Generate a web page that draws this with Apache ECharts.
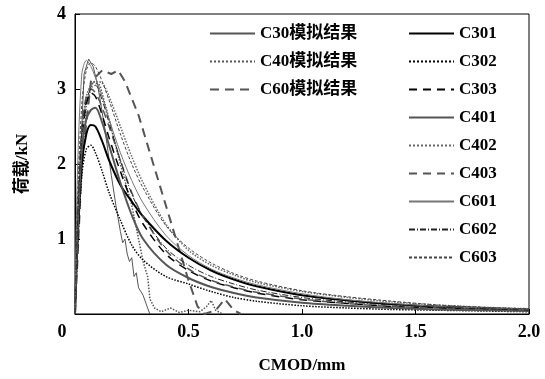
<!DOCTYPE html>
<html>
<head>
<meta charset="utf-8">
<script src="https://cdn.jsdelivr.net/npm/echarts@6/dist/echarts.min.js"></script>
<style>
html,body{margin:0;padding:0;background:#fff;}
#main{width:545px;height:379px;}
</style>
</head>
<body>
<div id="main"></div>
<script>
// CMOD (mm) for the test curves
var cmod = [0, 0.01, 0.03, 0.05, 0.07, 0.09, 0.12, 0.15, 0.2, 0.25, 0.3, 0.4, 0.5, 0.6, 0.7, 0.8, 1.0, 1.2, 1.4, 1.6, 1.8, 2.0];

// test loads (kN)
var c301 = [0, 0.9, 2.0, 2.4, 2.52, 2.5, 2.3, 2.05, 1.72, 1.5, 1.3, 0.98, 0.75, 0.58, 0.46, 0.37, 0.25, 0.18, 0.13, 0.1, 0.08, 0.06];
var c302 = [0, 0.8, 1.85, 2.2, 2.25, 2.15, 1.9, 1.62, 1.25, 0.92, 0.72, 0.5, 0.4, 0.3, 0.22, 0.17, 0.11, 0.08, 0.06, 0.05, 0.04, 0.03];
var c303 = [0, 1.0, 2.3, 2.8, 2.95, 2.9, 2.65, 2.35, 1.9, 1.5, 1.2, 0.8, 0.58, 0.44, 0.35, 0.28, 0.19, 0.14, 0.1, 0.08, 0.06, 0.05];
var c401 = [0, 1.0, 2.2, 2.6, 2.72, 2.75, 2.55, 2.25, 1.75, 1.32, 1.0, 0.66, 0.48, 0.36, 0.28, 0.22, 0.15, 0.11, 0.08, 0.06, 0.05, 0.04];
var c402 = [0, 1.1, 2.4, 2.9, 3.05, 3.1, 3.08, 2.9, 2.5, 2.1, 1.75, 1.2, 0.85, 0.65, 0.52, 0.42, 0.3, 0.22, 0.16, 0.12, 0.09, 0.07];
var c403 = [0, 1.2, 2.5, 2.9, 3.0, 2.95, 2.75, 2.5, 2.05, 1.62, 1.3, 0.85, 0.6, 0.45, 0.36, 0.29, 0.2, 0.14, 0.1, 0.08, 0.06, 0.05];
var c601 = [0, 1.8, 3.2, 3.38, 3.3, 3.15, 2.9, 2.6, 2.15, 1.78, 1.48, 1.05, 0.78, 0.6, 0.48, 0.39, 0.27, 0.19, 0.14, 0.1, 0.08, 0.06];
var c602 = [0, 1.1, 2.4, 2.85, 3.0, 3.05, 2.85, 2.55, 2.05, 1.6, 1.3, 0.88, 0.65, 0.5, 0.4, 0.32, 0.22, 0.16, 0.12, 0.09, 0.07, 0.05];
var c603 = [0, 1.4, 2.8, 3.25, 3.35, 3.3, 3.1, 2.85, 2.4, 2.0, 1.68, 1.18, 0.88, 0.68, 0.54, 0.44, 0.31, 0.23, 0.17, 0.12, 0.09, 0.07];

// simulation results [CMOD, load]
var sim30 = [[0,0],[0.02,1.8],[0.04,3.2],[0.06,3.4],[0.08,3.3],[0.1,3.05],[0.13,2.5],[0.16,1.85],[0.18,1.45],[0.2,1.1],[0.21,0.95],[0.22,1.0],[0.23,0.8],[0.24,0.7],[0.25,0.75],[0.26,0.5],[0.27,0.55],[0.28,0.35],[0.3,0.25],[0.32,0.08],[0.33,0]];
var sim40 = [[0,0],[0.02,1.5],[0.05,2.8],[0.08,3.1],[0.11,3.05],[0.15,2.6],[0.2,2.0],[0.25,1.45],[0.28,1.0],[0.3,0.7],[0.32,0.5],[0.33,0.2],[0.35,0.08],[0.38,0.03],[0.42,0.08],[0.46,0.02],[0.5,0.05],[0.55,0.03],[0.58,0.1],[0.6,0.18],[0.62,0.05],[0.65,0]];
var sim60 = [[0,0],[0.03,2.0],[0.07,3.1],[0.12,3.25],[0.16,3.2],[0.19,3.25],[0.22,3.1],[0.28,2.65],[0.34,2.05],[0.4,1.45],[0.45,0.95],[0.5,0.45],[0.54,0.1],[0.57,0],[0.62,0.05],[0.66,0.2],[0.7,0.05],[0.73,0]];

var simNames = ['C30模拟结果', 'C40模拟结果', 'C60模拟结果'];
var testNames = ['C301', 'C302', 'C303', 'C401', 'C402', 'C403', 'C601', 'C602', 'C603'];

var fontFam = "'Liberation Serif', 'Noto Sans CJK SC', serif";

function pair(ys) {
    return cmod.map(function (x, i) { return [x, ys[i]]; });
}
function mk(name, data, color, width, type, smooth) {
    return {
        name: name, type: 'line', data: data,
        symbol: 'none', smooth: smooth, animation: false,
        lineStyle: {color: color, width: width, type: type},
        itemStyle: {color: color}
    };
}

var series = [
    mk(simNames[0], sim30, '#555', 1, 'solid', false),
    mk(simNames[1], sim40, '#555', 1.5, 'dotted', false),
    mk(simNames[2], sim60, '#555', 2, [9, 6], false),
    mk(testNames[0], pair(c301), '#000', 2, 'solid', 0.3),
    mk(testNames[1], pair(c302), '#000', 1.5, 'dotted', 0.3),
    mk(testNames[2], pair(c303), '#000', 1.5, [8, 6], 0.3),
    mk(testNames[3], pair(c401), '#555', 2, 'solid', 0.3),
    mk(testNames[4], pair(c402), '#666', 1.5, 'dotted', 0.3),
    mk(testNames[5], pair(c403), '#555', 1.5, [8, 6], 0.3),
    mk(testNames[6], pair(c601), '#777', 1, 'solid', 0.3),
    mk(testNames[7], pair(c602), '#222', 1, [6, 2, 1, 2], 0.3),
    mk(testNames[8], pair(c603), '#444', 1, [3, 2], 0.3)
];

var legendText = {color: '#000', fontSize: 17, fontWeight: 'bold', fontFamily: fontFam};
var labelStyle = {color: '#000', fontSize: 18, fontWeight: 'bold', fontFamily: fontFam};

var chart = echarts.init(document.getElementById('main'));
var option = {
    backgroundColor: '#fff',
    animation: false,
    grid: {left: 75, right: 16, top: 14, bottom: 64, show: true, borderColor: '#000', borderWidth: 1},
    legend: [{
        data: simNames, orient: 'vertical', left: 204, top: 20,
        itemWidth: 45, itemHeight: 14, itemGap: 11, textStyle: legendText,
        itemStyle: {opacity: 0}
    }, {
        data: testNames, orient: 'vertical', left: 403, top: 20,
        itemWidth: 45, itemHeight: 14, itemGap: 11, textStyle: legendText,
        itemStyle: {opacity: 0}
    }],
    xAxis: {
        type: 'value', min: 0, max: 2, interval: 0.5,
        name: 'CMOD/mm', nameLocation: 'middle', nameGap: 43,
        nameTextStyle: {color: '#000', fontSize: 17, fontWeight: 'bold', fontFamily: fontFam},
        axisLine: {lineStyle: {color: '#000', width: 1}},
        axisTick: {inside: true, length: 5, lineStyle: {color: '#000'}},
        splitLine: {show: false},
        axisLabel: Object.assign({
            margin: 9,
            formatter: function (v) { return v === 0 ? '{z|0}' : v.toFixed(1); },
            rich: {z: {color: '#000', fontSize: 18, fontWeight: 'bold', fontFamily: fontFam, padding: [0, 26, 0, 0]}}
        }, labelStyle)
    },
    yAxis: {
        type: 'value', min: 0, max: 4, interval: 1,
        name: '荷载/kN', nameLocation: 'middle', nameGap: 44, nameRotate: 90,
        nameTextStyle: {color: '#000', fontSize: 17, fontWeight: 'bold', fontFamily: fontFam},
        axisLine: {show: true, lineStyle: {color: '#000', width: 1}},
        axisTick: {show: true, inside: true, length: 5, lineStyle: {color: '#000'}},
        splitLine: {show: false},
        axisLabel: Object.assign({
            margin: 9,
            formatter: function (v) { return v === 0 ? '' : String(v); }
        }, labelStyle)
    },
    series: series
};
chart.setOption(option);
</script>
</body>
</html>
